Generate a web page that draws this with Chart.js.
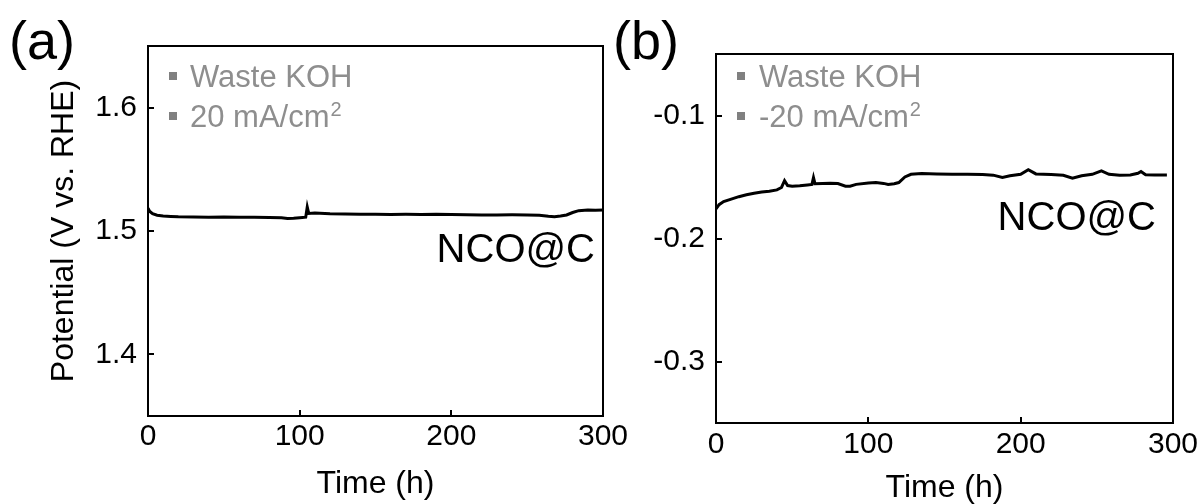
<!DOCTYPE html>
<html>
<head>
<meta charset="utf-8">
<script src="https://cdn.jsdelivr.net/npm/chart.js@4.4.1/dist/chart.umd.min.js"></script>
<style>
  html, body { margin: 0; padding: 0; background: #fff; }
  #wrap { position: relative; width: 1203px; height: 504px; overflow: hidden; }
  canvas { position: absolute; top: 0; }
  #chartA { left: 0; }
  #chartB { left: 610px; }
</style>
</head>
<body>
<div id="wrap">
  <canvas id="chartA" width="650" height="504"></canvas>
  <canvas id="chartB" width="593" height="504"></canvas>
</div>
<script>
// (a) anodic run, 20 mA/cm2
const timeA = [0, 1, 3, 6, 10, 15, 20, 30, 40, 50, 60, 70, 80, 88, 92, 96, 100, 104, 105, 106,
  110, 120, 130, 140, 150, 160, 170, 180, 190, 200, 210, 220, 230, 240, 250, 258, 264, 268,
  272, 276, 280, 284, 290, 295, 300];
const potentialA = [1.5185, 1.5160, 1.5140, 1.5128, 1.5122, 1.5118, 1.5115, 1.5113, 1.5112,
  1.5114, 1.5112, 1.5111, 1.5110, 1.5108, 1.5102, 1.5104, 1.5108, 1.5112, 1.5195, 1.5142,
  1.5145, 1.5140, 1.5138, 1.5136, 1.5135, 1.5134, 1.5135, 1.5134, 1.5135, 1.5133, 1.5132,
  1.5130, 1.5130, 1.5131, 1.5130, 1.5128, 1.5120, 1.5116, 1.5122, 1.5130, 1.5150, 1.5165,
  1.5170, 1.5168, 1.5170];

// (b) cathodic run, -20 mA/cm2
const timeB = [0, 2, 5, 10, 15, 20, 25, 30, 35, 40, 43, 45, 47, 50, 55, 60, 63, 64, 65, 70,
  75, 80, 85, 88, 92, 100, 105, 110, 113, 117, 120, 124, 128, 135, 145, 155, 165, 175, 182,
  188, 193, 200, 205, 210, 220, 228, 234, 240, 247, 253, 258, 265, 272, 277, 279, 282, 288, 296];
const potentialB = [-0.1760, -0.1725, -0.1700, -0.1680, -0.1660, -0.1645, -0.1632, -0.1622,
  -0.1615, -0.1605, -0.1585, -0.1530, -0.1570, -0.1575, -0.1572, -0.1565, -0.1560, -0.1505,
  -0.1555, -0.1553, -0.1551, -0.1553, -0.1575, -0.1575, -0.1560, -0.1548, -0.1545, -0.1552,
  -0.1560, -0.1555, -0.1545, -0.1500, -0.1478, -0.1472, -0.1475, -0.1478, -0.1477, -0.1480,
  -0.1485, -0.1503, -0.1490, -0.1478, -0.1440, -0.1475, -0.1480, -0.1486, -0.1510, -0.1490,
  -0.1478, -0.1450, -0.1478, -0.1485, -0.1484, -0.1470, -0.1455, -0.1482, -0.1484, -0.1483];

const timeTicks = [0, 100, 200, 300];
const ticksA = [1.4, 1.5, 1.6];
const ticksB = [-0.3, -0.2, -0.1];

const FONT = '"Liberation Sans", Arial, sans-serif';
Chart.defaults.font.family = FONT;
Chart.defaults.color = '#000';

// frame, inward tick marks, panel letter, condition notes and sample name
const panelDecor = {
  id: 'panelDecor',
  afterDraw(chart, args, opts) {
    const ctx = chart.ctx;
    const area = chart.chartArea;
    const xs = chart.scales.x;
    const ys = chart.scales.y;
    ctx.save();
    ctx.strokeStyle = '#000';
    ctx.lineWidth = 2;
    ctx.strokeRect(area.left, area.top, area.right - area.left, area.bottom - area.top);

    // ticks point into the plot
    ctx.beginPath();
    xs.ticks.forEach(t => {
      const px = Math.round(xs.getPixelForValue(t.value));
      ctx.moveTo(px, area.bottom);
      ctx.lineTo(px, area.bottom - 6);
    });
    ys.ticks.forEach(t => {
      const py = Math.round(ys.getPixelForValue(t.value));
      ctx.moveTo(area.left, py);
      ctx.lineTo(area.left + 6, py);
    });
    ctx.stroke();

    ctx.textBaseline = 'alphabetic';
    ctx.textAlign = 'left';
    ctx.fillStyle = '#000';
    ctx.font = '54px ' + FONT;
    ctx.fillText(opts.tag, opts.tagX, opts.tagY);

    opts.notes.forEach((note, i) => {
      const y = opts.noteY[i];
      ctx.fillStyle = '#808080';
      ctx.fillRect(opts.squareX - 4, y - 15, 8, 8);
      ctx.fillStyle = '#8e8e8e';
      ctx.font = '31px ' + FONT;
      ctx.fillText(note.text, opts.textX, y);
      if (note.sup) {
        const w = ctx.measureText(note.text).width;
        ctx.font = '20px ' + FONT;
        ctx.fillText(note.sup, opts.textX + w + 1, y - 11);
      }
    });

    ctx.fillStyle = '#000';
    ctx.font = '40px ' + FONT;
    ctx.textAlign = 'right';
    ctx.fillText(opts.sample, opts.sampleX, opts.sampleY);
    ctx.restore();
  }
};

function makeChart(id, cfg) {
  return new Chart(document.getElementById(id), {
    type: 'line',
    data: {
      datasets: [{
        data: cfg.time.map((t, i) => ({ x: t, y: cfg.values[i] })),
        borderColor: '#000',
        borderWidth: 3,
        pointRadius: 0,
        tension: 0
      }]
    },
    options: {
      responsive: false,
      animation: false,
      devicePixelRatio: 1,
      layout: { padding: cfg.padding },
      plugins: {
        legend: { display: false },
        tooltip: { enabled: false },
        panelDecor: cfg.decor
      },
      scales: {
        x: {
          type: 'linear',
          min: 0,
          max: 300,
          afterBuildTicks: (scale) => { scale.ticks = timeTicks.map(v => ({ value: v })); },
          afterFit: (scale) => {
            scale.height = cfg.xAxisHeight;
            scale.paddingLeft = 0;
            scale.paddingRight = 0;
          },
          grid: { display: true, drawOnChartArea: false, drawTicks: false },
          border: { display: false },
          ticks: { font: { size: 30 }, padding: cfg.xTickPad, maxRotation: 0, autoSkip: false, color: '#000' },
          title: {
            display: true,
            text: 'Time (h)',
            font: { size: 32, lineHeight: 1 },
            padding: { top: 0, bottom: cfg.xTitlePad },
            color: '#000'
          }
        },
        y: {
          type: 'linear',
          min: cfg.yMin,
          max: cfg.yMax,
          afterBuildTicks: (scale) => { scale.ticks = cfg.yTicks.map(v => ({ value: v })); },
          afterFit: (scale) => {
            scale.width = cfg.yAxisWidth;
            scale.paddingTop = 0;
            scale.paddingBottom = 0;
          },
          grid: { display: true, drawOnChartArea: false, drawTicks: false },
          border: { display: false },
          ticks: {
            font: { size: 30 },
            padding: 11,
            autoSkip: false,
            color: '#000',
            callback: (v) => Number(v).toFixed(1)
          },
          title: {
            display: !!cfg.yTitle,
            text: cfg.yTitle || '',
            font: { size: 32 },
            padding: { top: 45, bottom: 0 },
            color: '#000'
          }
        }
      }
    },
    plugins: [panelDecor]
  });
}

makeChart('chartA', {
  time: timeA,
  values: potentialA,
  yMin: 1.35,
  yMax: 1.65,
  yTicks: ticksA,
  yTitle: 'Potential (V vs. RHE)',
  yAxisWidth: 148,
  xAxisHeight: 88,
  xTickPad: 3,
  xTitlePad: 4,
  padding: { left: 0, right: 47, top: 46, bottom: 0 },
  decor: {
    tag: '(a)', tagX: 9, tagY: 59,
    notes: [{ text: 'Waste KOH' }, { text: '20 mA/cm', sup: '2' }],
    noteY: [87, 127], squareX: 173, textX: 190,
    sample: 'NCO@C', sampleX: 595, sampleY: 262
  }
});

makeChart('chartB', {
  time: timeB,
  values: potentialB,
  yMin: -0.35,
  yMax: -0.05,
  yTicks: ticksB,
  yTitle: null,
  yAxisWidth: 106,
  xAxisHeight: 81,
  xTickPad: 4,
  xTitlePad: 0,
  padding: { left: 0, right: 30, top: 54, bottom: 0 },
  decor: {
    tag: '(b)', tagX: 3, tagY: 59,
    notes: [{ text: 'Waste KOH' }, { text: '-20 mA/cm', sup: '2' }],
    noteY: [87, 127], squareX: 131, textX: 149,
    sample: 'NCO@C', sampleX: 546, sampleY: 230
  }
});
</script>
</body>
</html>
